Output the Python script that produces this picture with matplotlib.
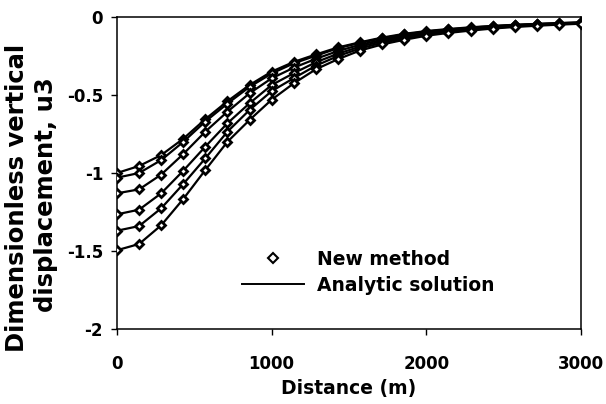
import matplotlib
matplotlib.use("Agg")
import matplotlib.pyplot as plt
from matplotlib.lines import Line2D

distance = [0, 143, 286, 429, 571, 714, 857, 1000, 1143, 1286, 1429,
            1571, 1714, 1857, 2000, 2143, 2286, 2429, 2571, 2714, 2857, 3000]

u3_a = [-1.00, -0.955, -0.885, -0.78, -0.655, -0.54, -0.436, -0.35, -0.288, -0.24, -0.195,
        -0.162, -0.132, -0.108, -0.09, -0.077, -0.066, -0.057, -0.05, -0.044, -0.039, -0.034]
u3_b = [-1.03, -1.00, -0.917, -0.80, -0.67, -0.555, -0.448, -0.362, -0.297, -0.248, -0.20,
        -0.166, -0.136, -0.112, -0.093, -0.08, -0.068, -0.059, -0.051, -0.045, -0.04, -0.035]
u3_c = [-1.13, -1.105, -1.01, -0.878, -0.735, -0.607, -0.489, -0.393, -0.325, -0.268, -0.218,
        -0.178, -0.146, -0.12, -0.10, -0.085, -0.072, -0.062, -0.054, -0.047, -0.042, -0.037]
u3_d = [-1.265, -1.235, -1.13, -0.985, -0.831, -0.681, -0.553, -0.436, -0.36, -0.29, -0.235,
        -0.19, -0.155, -0.128, -0.106, -0.09, -0.077, -0.066, -0.057, -0.05, -0.044, -0.039]
u3_e = [-1.37, -1.34, -1.226, -1.07, -0.906, -0.735, -0.596, -0.475, -0.392, -0.312, -0.25,
        -0.202, -0.165, -0.137, -0.113, -0.096, -0.082, -0.07, -0.06, -0.053, -0.046, -0.041]
u3_f = [-1.495, -1.455, -1.335, -1.166, -0.981, -0.80, -0.66, -0.53, -0.425, -0.335, -0.27,
        -0.215, -0.176, -0.146, -0.12, -0.102, -0.087, -0.074, -0.064, -0.056, -0.049, -0.043]

series = [u3_a, u3_b, u3_c, u3_d, u3_e, u3_f]

x_ticks = [0, 1000, 2000, 3000]
y_ticks = [0, -0.5, -1, -1.5, -2]
y_tick_labels = ["0", "-0.5", "-1", "-1.5", "-2"]

plt.rcParams['font.family'] = ['DejaVu Sans']
plt.rcParams['font.weight'] = 'bold'
plt.rcParams['axes.unicode_minus'] = False

fig = plt.figure(figsize=(6.06, 4.04), dpi=100)
ax = fig.add_axes([117/606, 1-329/404, (581-117)/606, (329-17)/404])

for s in series:
    ax.plot(distance, s, color='black', lw=1.6, zorder=2)
    ax.plot(distance, s, linestyle='none', marker='D', ms=3.8,
            mfc='white', mec='black', mew=2.0, zorder=3)

ax.set_xlim(0, 3000)
ax.set_ylim(-2, 0)
ax.set_xticks(x_ticks)
ax.set_xticklabels([str(t) for t in x_ticks])
ax.set_yticks(y_ticks)
ax.set_yticklabels(y_tick_labels)
ax.tick_params(axis='both', direction='out', length=4, width=1, labelsize=12,
               colors='black')
ax.tick_params(axis='x', pad=15)
ax.tick_params(axis='y', pad=6)
for lab in ax.get_xticklabels() + ax.get_yticklabels():
    lab.set_fontweight('bold')
for sp in ax.spines.values():
    sp.set_linewidth(1.1)
    sp.set_color('black')

ax.set_xlabel("Distance (m)", fontsize=13.5, fontweight='bold', labelpad=4)

fig.text(17/606, 1-198/404, "Dimensionless vertical", rotation=90,
         ha='center', va='center', fontsize=17.5, fontweight='bold')
fig.text(46/606, 1-195/404, "displacement, u3", rotation=90,
         ha='center', va='center', fontsize=17.5, fontweight='bold')

handles = [
    Line2D([], [], linestyle='none', marker='D', ms=5, mfc='white', mec='black', mew=1.5),
    Line2D([], [], color='black', lw=1.4),
]
leg = ax.legend(handles, ["New method", "Analytic solution"], frameon=False,
                loc='upper left', bbox_to_anchor=(242/606, 1-250/404),
                bbox_transform=fig.transFigure, borderpad=0, borderaxespad=0,
                handlelength=3.3, handletextpad=0.7, labelspacing=0.35,
                prop={'size': 13.5, 'weight': 'bold'})

fig.savefig("out.png", dpi=100)
